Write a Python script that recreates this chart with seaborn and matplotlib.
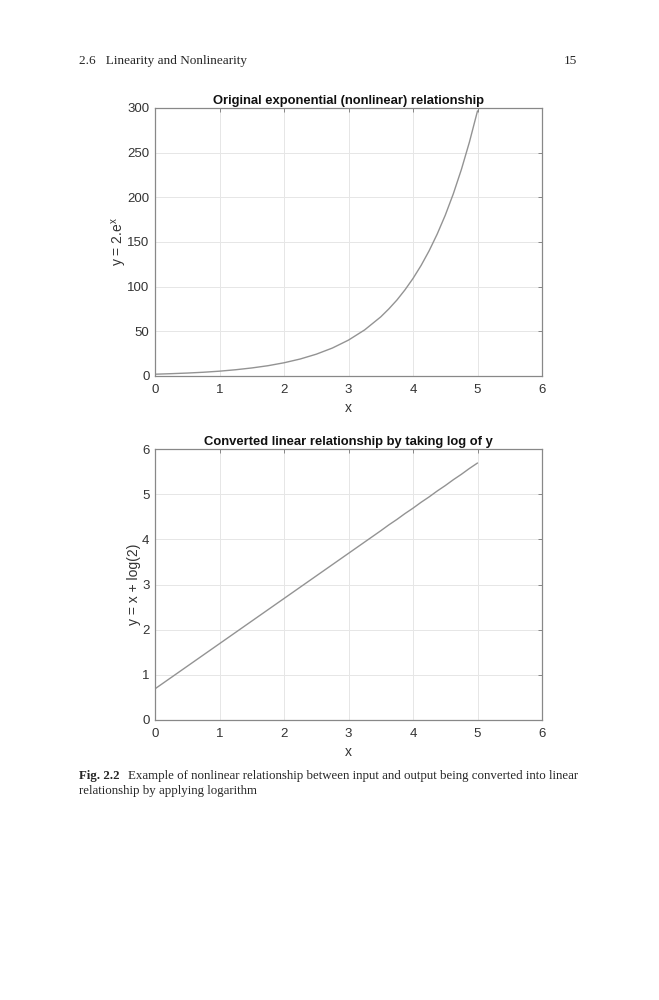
import matplotlib
matplotlib.use('Agg')
import matplotlib.pyplot as plt
import seaborn as sns
import pandas as pd

# values (y = 2e^x, then log of it)
x_vals = [0.0, 0.25, 0.5, 0.75, 1.0, 1.25, 1.5, 1.75, 2.0, 2.25, 2.5, 2.75, 3.0,
          3.25, 3.5, 3.625, 3.75, 3.875, 4.0, 4.125, 4.25, 4.375, 4.5, 4.625,
          4.75, 4.875, 5.0]
y_exp = [2.0, 2.6, 3.3, 4.2, 5.4, 7.0, 9.0, 11.5, 14.8, 19.0, 24.4, 31.3, 40.2,
         51.6, 66.2, 75.1, 85.0, 96.4, 109.2, 123.7, 140.2, 158.9, 180.0, 204.0,
         231.2, 262.0, 296.8]
y_log = [0.69, 0.94, 1.19, 1.44, 1.69, 1.94, 2.19, 2.44, 2.69, 2.94, 3.19, 3.44, 3.69,
         3.94, 4.19, 4.32, 4.44, 4.57, 4.69, 4.82, 4.94, 5.07, 5.19, 5.32,
         5.44, 5.57, 5.69]

titles = ['Original exponential (nonlinear) relationship',
          'Converted linear relationship by taking log of y']
ylabels = [r'y = 2.e$^{\mathregular{x}}$', 'y = x + log(2)']
yticks_top = [0, 50, 100, 150, 200, 250, 300]
yticks_bot = [0, 1, 2, 3, 4, 5, 6]
xticks = [0, 1, 2, 3, 4, 5, 6]

sns.set_style('white')
plt.rcParams['font.family'] = ['Liberation Sans', 'DejaVu Sans']

df = pd.DataFrame({'x': x_vals, 'y_exp': y_exp, 'y_log': y_log})

fig = plt.figure(figsize=(6.59, 10), dpi=100)
ax1 = fig.add_axes([0.2352, 0.624, 0.5873, 0.268])
ax2 = fig.add_axes([0.2352, 0.280, 0.5873, 0.271])

tick_col = '#333333'
for ax, col, title, ylab, yt, lab_x in [
    (ax1, 'y_exp', titles[0], ylabels[0], yticks_top, -0.092),
    (ax2, 'y_log', titles[1], ylabels[1], yticks_bot, -0.054),
]:
    sns.lineplot(data=df, x='x', y=col, ax=ax, color='#939393', linewidth=1.0)
    ax.set_xlim(0, 6)
    ax.set_ylim(yt[0], yt[-1])
    ax.set_xticks(xticks)
    ax.set_yticks(yt)
    ax.grid(True, color='#e6e6e6', linewidth=0.7)
    ax.tick_params(direction='in', top=True, right=True, length=3, width=0.6,
                   color='#777777', labelsize=9.5, labelcolor=tick_col)
    ax.tick_params(axis='x', pad=6)
    ax.tick_params(axis='y', pad=4)
    for s in ax.spines.values():
        s.set_color('#888888')
        s.set_linewidth(0.9)
    ax.set_title(title, fontsize=9.4, fontweight='bold', color='#111111', pad=3)
    ax.set_xlabel('x', fontsize=10, color=tick_col, labelpad=3)
    ax.set_ylabel(ylab, fontsize=10, color=tick_col, va='center')
    ax.yaxis.set_label_coords(lab_x, 0.5)

# page header and caption
serif = ['Liberation Serif', 'DejaVu Serif']
fig.text(79 / 659, 1 - 61 / 1000, '2.6   Linearity and Nonlinearity', family=serif,
         fontsize=9.5, va='center', ha='left')
fig.text(577 / 659, 1 - 61 / 1000, '15', family=serif, fontsize=9.5, va='center', ha='right')
fig.text(79 / 659, 1 - 776 / 1000, 'Fig. 2.2', family=serif, fontweight='bold',
         fontsize=9.3, va='center', ha='left')
fig.text(128 / 659, 1 - 776 / 1000,
         'Example of nonlinear relationship between input and output being converted into linear',
         family=serif, fontsize=9.3, va='center', ha='left')
fig.text(79 / 659, 1 - 791 / 1000, 'relationship by applying logarithm', family=serif,
         fontsize=9.3, va='center', ha='left')

fig.savefig('out.png', dpi=100)
